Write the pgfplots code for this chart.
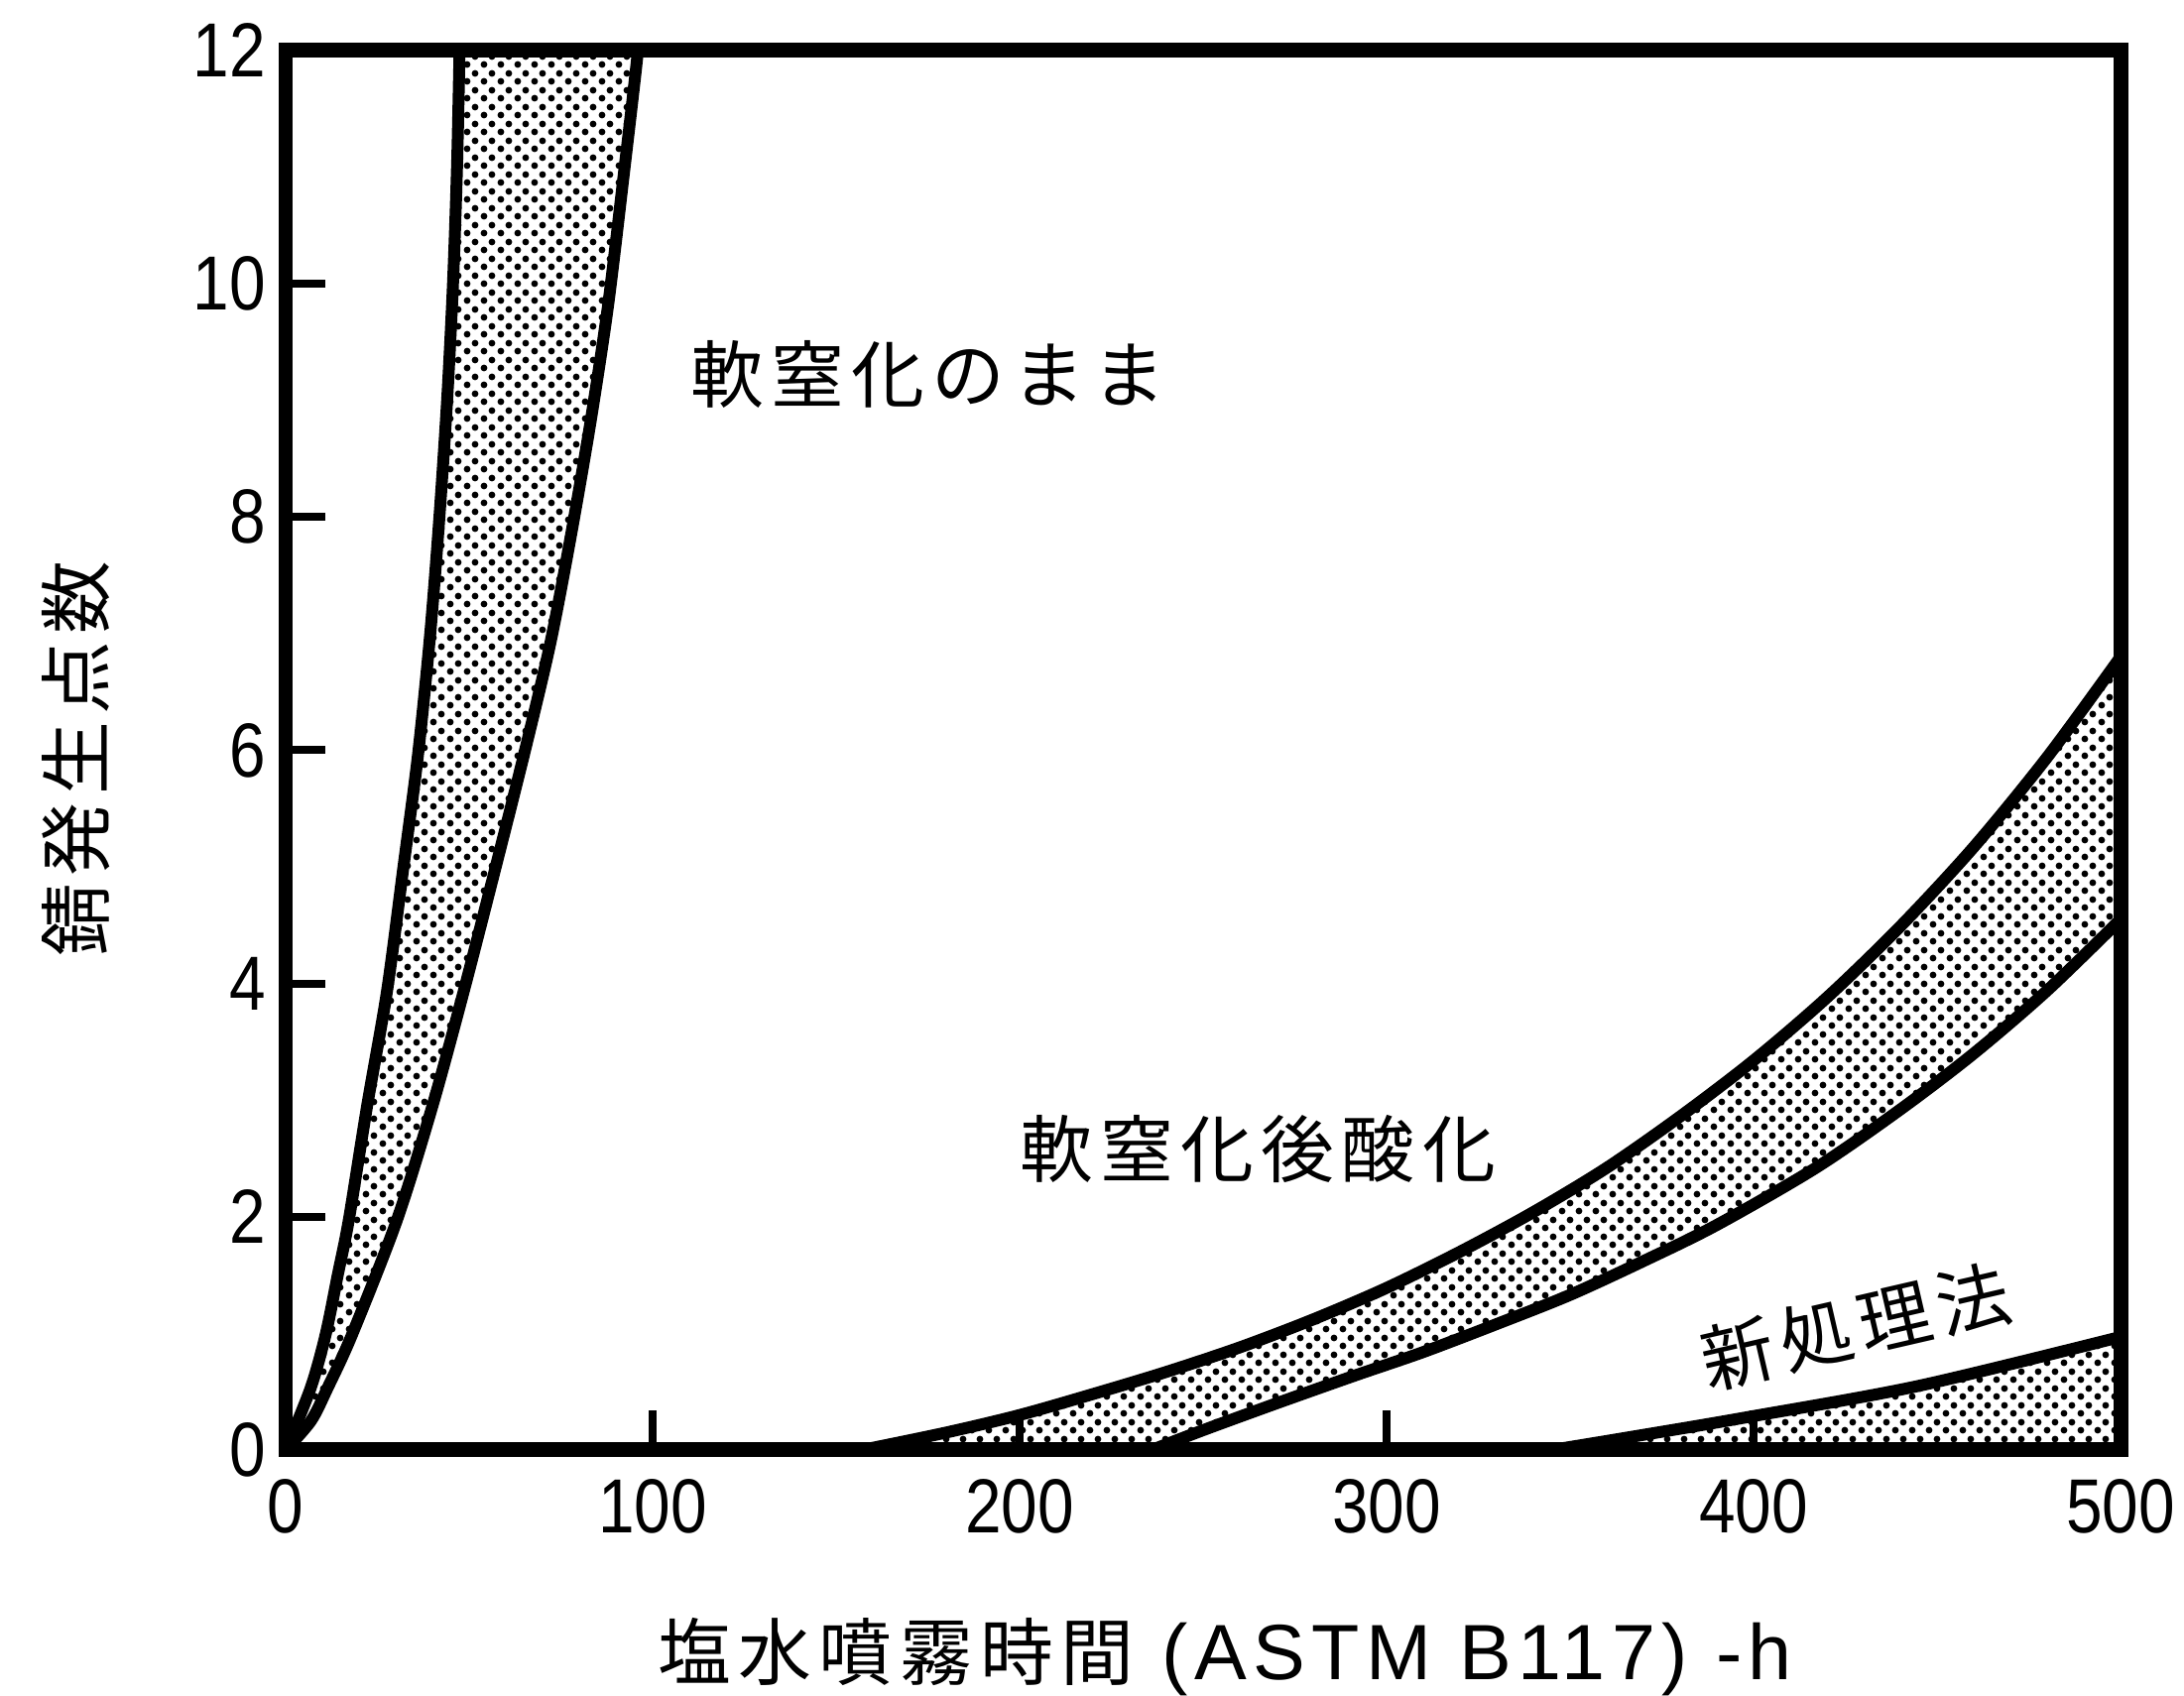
\documentclass[border=0pt]{standalone}
\usepackage{fontspec}
\usepackage{pgfplots}
\pgfplotsset{compat=1.18}
\usepgfplotslibrary{fillbetween}
\usetikzlibrary{patterns.meta}
\setmainfont{Liberation Sans}
\newfontfamily\jp[LetterSpace=10]{Noto Sans CJK JP}
\newfontfamily\tickfont[FakeStretch=0.85]{Liberation Sans}
\newfontfamily\wide[LetterSpace=8]{Liberation Sans}

% fine dot screen used for the scatter bands
\pgfdeclarepattern{
  name=stipple,
  type=uncolored,
  bottom left={\pgfpoint{0cm}{0cm}},
  top right={\pgfpoint{0.165cm}{0.165cm}},
  tile size={\pgfpoint{0.165cm}{0.165cm}},
  code={
    \pgfpathcircle{\pgfpoint{0.041cm}{0.041cm}}{0.035cm}
    \pgfpathcircle{\pgfpoint{0.1235cm}{0.1235cm}}{0.035cm}
    \pgfusepath{fill}
  }
}

\begin{document}
\begin{tikzpicture}
\begin{axis}[
  at={(0,0)}, anchor=south west,
  width=18.5cm, height=14.11cm, scale only axis,
  xmin=0, xmax=500, ymin=0, ymax=12,
  xtick={0,100,...,500}, ytick={0,2,...,12},
  tick pos=left, tick align=inside,
  major tick length=0.4cm,
  major tick style={line width=0.08cm, black},
  axis line style={line width=0.15cm, black},
  axis on top,
  /pgf/number format/assume math mode=true,
  ticklabel style={font=\tickfont\fontsize{22}{26}\selectfont},
  xticklabel style={yshift=-0.17cm},
  yticklabel style={xshift=-0.08cm},
  xlabel={{\jp\fontsize{21}{24}\selectfont 塩水噴霧時間}{\wide\fontsize{22.5}{26}\selectfont\ (ASTM B117)\ -h}},
  xlabel style={at={([yshift=-2.09cm]axis description cs:0.512,0)}, anchor=center},
  ylabel={\jp\fontsize{21}{24}\selectfont 錆発生点数},
  ylabel style={at={([xshift=-2.11cm]axis description cs:0,0.494)}, anchor=center},
]
% as-nitrocarburized band
\addplot[name path=na, smooth, line width=0.12cm, black] coordinates {
  (0,0) (6.8,0.53) (10.9,0.99) (14.2,1.5) (17.2,1.97) (22.2,2.95) (27.6,3.93)
  (32.1,5) (36.1,5.97) (39.4,7) (41.9,8) (44,9) (45.6,10) (46.7,11)
  (47.4,12) (47.8,12.6)};
\addplot[name path=nb, smooth, line width=0.12cm, black] coordinates {
  (0,0) (6.9,0.25) (11.4,0.53) (18.1,0.99) (30.3,1.97) (40,2.95) (48.5,3.93)
  (57,4.97) (65,5.97) (72,6.9) (77.5,7.8) (83,8.8) (87.8,9.8) (92,10.9)
  (96,12) (97.5,12.6)};
\addplot[pattern=stipple, pattern color=black, draw=none] fill between[of=na and nb];

% nitrocarburized + oxidized band
\addplot[name path=oa, smooth, line width=0.12cm, black] coordinates {
  (157,0) (180,0.15) (200,0.3) (220,0.48) (240,0.67) (260,0.88) (280,1.12)
  (300,1.39) (320,1.7) (340,2.04) (360,2.42) (380,2.86) (400,3.34)
  (420,3.88) (440,4.49) (460,5.17) (480,5.94) (500,6.8)};
\addplot[name path=ob, smooth, line width=0.12cm, black] coordinates {
  (236,0) (250,0.17) (270,0.4) (291.5,0.64) (310,0.84) (330,1.08) (350,1.33)
  (370,1.62) (390,1.93) (417,2.42) (440,2.92) (460,3.4) (480,3.94) (500,4.55)};
\addplot[pattern=stipple, pattern color=black, draw=none] fill between[of=oa and ob];

% new process band
\addplot[name path=nn, smooth, line width=0.12cm, black] coordinates {
  (345,0) (370,0.13) (398,0.28) (445,0.55) (500,0.97)};
\addplot[name path=base, draw=none] coordinates {(345,0) (500,0)};
\addplot[pattern=stipple, pattern color=black, draw=none] fill between[of=nn and base];

\node[font=\jp\fontsize{21}{24}\selectfont] at (axis cs:175.1,9.22) {軟窒化のまま};
\node[font=\jp\fontsize{21}{24}\selectfont] at (axis cs:264.9,2.58) {軟窒化後酸化};
\node[font=\jp\fontsize{21}{24}\selectfont, rotate=13] at (axis cs:427.8,1.06) {新処理法};
\end{axis}
\pgfresetboundingbox
\path[use as bounding box] (-2.88,-2.48) rectangle (19.14,14.62);
\end{tikzpicture}
\end{document}
